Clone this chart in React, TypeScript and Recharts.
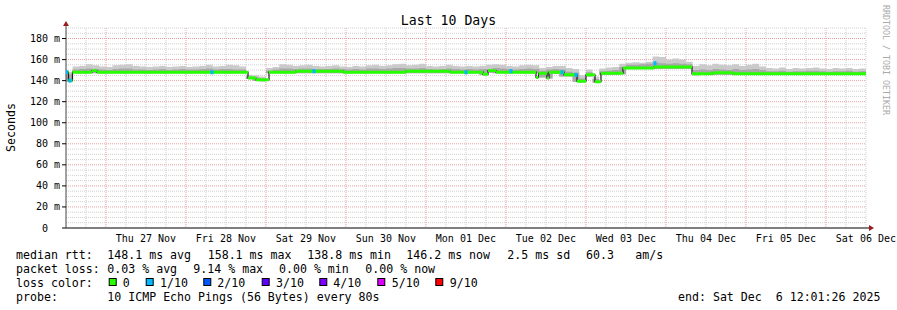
import React from 'react';
import { ComposedChart, XAxis, YAxis, CartesianGrid, Area, Scatter, ReferenceDot } from 'recharts';

// ---- time axis (hours since Wed 26 Nov 00:00) ----
const X_START = 12.024;
const X_END = 252.024;
const DAY_TICK_HOURS = [36, 60, 84, 108, 132, 156, 180, 204, 228, 252];
const DAY_TICK_LABELS = ['Thu 27 Nov', 'Fri 28 Nov', 'Sat 29 Nov', 'Sun 30 Nov', 'Mon 01 Dec', 'Tue 02 Dec', 'Wed 03 Dec', 'Thu 04 Dec', 'Fri 05 Dec', 'Sat 06 Dec'];
const Y_TICKS = [0, 20, 40, 60, 80, 100, 120, 140, 160, 180];

// ---- median rtt (ms), step breakpoints ----
const MEDIAN_HOURS = [12.02, 12.77, 13.97, 19.8, 21.3, 66.62, 69.02, 72.92, 81.02, 95.12, 114.02, 127.22, 137.12, 138.62, 141.02, 153.02, 153.77, 156.32, 156.92, 161.42, 165.32, 168.02, 170.72, 172.52, 179.12, 188.42, 199.82, 206.12, 212.12, 252.02];
const MEDIAN_MS = [148, 140, 148, 149.5, 148, 142.5, 140.8, 148, 149, 148, 149, 148, 146, 149.5, 148, 143, 147, 142.5, 148, 145.5, 139.5, 145.5, 139, 147, 152, 153, 146.5, 147.5, 146.5, 146.5];

// ---- smoke (ms), every 2 hours from 12:00 Nov 26 ----
const SMOKE_START = 12;
const SMOKE_STEP = 2;
const SMOKE_HI = [148,
  153.5, 154, 155.5, 154.5, 153.5, 153, 154.5, 155, 155.5, 154, 153.5, 153, 153.5, 154, 153, 153.5, 154, 153, 153.5, 154, 155, 153.5, 154, 155, 154.5, 153.5,
  145.5, 145, 144, 152,
  153, 155.5, 155, 154, 154.5, 155, 154, 153.5, 154, 154.5, 153.5, 153, 154, 153.5, 154.5, 155, 154, 154.5, 155.5, 156, 154.5, 155, 156, 154, 153.5, 154, 155, 154, 153.5,
  154, 153.5, 154, 155, 155.5, 155, 154, 153.5, 154.5, 155, 154.5,
  152, 153, 154, 154, 152, 151, 145, 150.5, 144, 151.5, 152.5, 153, 156,
  157, 157.5, 157, 158, 163, 162.5, 160, 161, 160, 158,
  154,
  155.5, 154.5, 156, 155, 154.5, 155.5, 154, 155, 156, 153.5,
  152, 151.5, 152.5, 151, 152, 151.5, 152, 152.5, 151.5, 151, 152, 151.5, 152, 151, 151.5, 151.5];
const SMOKE_MID = [146,
  150.5, 151, 151.5, 151, 150.5, 150, 151, 151.5, 151.5, 150.5, 150.5, 150, 150.5, 151, 150, 150.5, 151, 150.5, 150.5, 151, 151.5, 150.5, 151, 151, 150.5, 150.5,
  144, 143, 142.5, 149.5,
  150.5, 151.5, 151.5, 151, 151.5, 151.5, 151, 151, 151, 151.5, 151, 150.5, 151, 150.5, 151.5, 151.5, 151, 151.5, 152, 152, 151.5, 151.5, 152, 151, 150.5, 151, 151.5, 151, 150.5,
  151, 150.5, 151, 151, 152, 151.5, 151, 150.5, 151, 151.5, 151,
  149.5, 150.5, 151, 150.5, 148.5, 147.5, 142, 148, 141.5, 149, 149.5, 150, 153,
  155, 155, 155.5, 156, 157, 156.5, 156, 156.5, 156, 155.5,
  150,
  150.5, 150, 151, 150.5, 150, 151, 150, 150.5, 151, 150,
  149, 149, 149.5, 148.5, 149, 149, 149.5, 149.5, 149, 148.5, 149, 149, 149.5, 148.5, 149, 149];
const SMOKE_LO = [139,
  147, 147, 147, 147, 147, 147, 147, 147, 147, 147, 147, 147, 147, 147, 147, 147, 147, 147, 147, 147, 147, 147, 147, 147, 147, 147,
  141.5, 140, 139.5, 147,
  147, 147, 147, 147, 147, 147, 147, 147, 147, 147, 147, 147, 147, 147, 147, 147, 147, 147, 147, 147, 147, 147, 147, 147, 147, 147, 147, 147, 147,
  147, 147, 145.5, 147.5, 147, 147, 147, 147, 147, 147, 147,
  143, 142, 146.5, 144, 144, 139, 138.5, 144, 138, 145.5, 145.5, 145.5, 146,
  151, 151, 151, 151, 151, 151, 151, 151, 151, 151,
  145,
  145.5, 145.5, 145.5, 145.5, 145.5, 145.5, 145.5, 145.5, 145.5, 145.5,
  145.5, 145.5, 145.5, 145.5, 145.5, 145.5, 145.5, 145.5, 145.5, 145.5, 145.5, 145.5, 145.5, 145.5, 145.5, 145.5];

// ---- probes with 1/10 loss ----
const LOSS_HOURS = [12.17, 13.22, 55.82, 86.42, 132.02, 145.52, 160.82, 165.02, 188.72];
const LOSS_MS = [148, 140, 148, 149, 148, 149, 148, 145.5, 156.5];

// ---- legend ----
const LOSS_LABELS = ['0', '1/10', '2/10', '3/10', '4/10', '5/10', '9/10'];
const LOSS_COLORS = ['#26ff00', '#00b8ff', '#0059ff', '#5e00ff', '#7e00ff', '#dd00ff', '#ff0000'];
const RTT_STATS = ['148.1 ms avg', '158.1 ms max', '138.8 ms min', '146.2 ms now', '2.5 ms sd', '60.3', 'am/s'];
const LOSS_STATS = ['0.03 % avg', '9.14 % max', '0.00 % min', '0.00 % now'];
const PROBE_TEXT = '10 ICMP Echo Pings (56 Bytes) every 80s';
const END_TEXT = 'end: Sat Dec  6 12:01:26 2025';

const MONO = '"DejaVu Sans Mono", monospace';
const LINE_HALF = 1.4;

const smokeData = SMOKE_HI.map((hi, k) => ({ h: SMOKE_START + SMOKE_STEP * k, hi, mid: SMOKE_MID[k], lo: SMOKE_LO[k] }));
const medianData = MEDIAN_HOURS.map((h, i) => ({ h, v: MEDIAN_MS[i] }));
const lossData = LOSS_HOURS.map((h, i) => ({ h, v: LOSS_MS[i] }));

const yMinor: number[] = [];
for (let v = 5; v <= 190; v += 5) if (v % 20 !== 0) yMinor.push(v);
const yMajor = [20, 40, 60, 80, 100, 120, 140, 160, 180];
const xMinor: number[] = [];
for (let h = 18; h <= 252; h += 6) if (h % 24 !== 0) xMinor.push(h);
const xMajor: number[] = [];
for (let h = 24; h <= 240; h += 24) xMajor.push(h);

const YTick = (p: any) => {
  const v = p.payload.value;
  const label = v === 0 ? '0' : `${v} m`;
  return (
    <text x={p.x - (v === 0 ? 12 : 0)} y={p.y} dy="0.355em" textAnchor="end" fontFamily={MONO} fontSize={10} fill="#000">{label}</text>
  );
};

const XTick = (p: any) => {
  const i = DAY_TICK_HOURS.indexOf(p.payload.value);
  return (
    <text x={p.x} y={p.y} dy="0.71em" textAnchor="middle" fontFamily={MONO} fontSize={10} fill="#000">{DAY_TICK_LABELS[i]}</text>
  );
};

const XArrow = (p: any) => (
  <g>
    <line x1={p.cx} y1={p.cy} x2={p.cx + 4} y2={p.cy} stroke="#000" strokeWidth={1} />
    <path d={`M${p.cx + 3},${p.cy - 3} L${p.cx + 8},${p.cy} L${p.cx + 3},${p.cy + 3} Z`} fill="#9b1c1c" />
  </g>
);
const YArrow = (p: any) => (
  <g>
    <line x1={p.cx} y1={p.cy} x2={p.cx} y2={p.cy - 4} stroke="#444" strokeWidth={1} />
    <path d={`M${p.cx - 3},${p.cy - 2} L${p.cx},${p.cy - 7} L${p.cx + 3},${p.cy - 2} Z`} fill="#9b1c1c" />
  </g>
);

const LossMark = (p: any) => <rect x={p.cx - 1.5} y={p.cy - 2} width={3} height={4} fill="#00b8ff" />;

const L1 = [107.3, 207.7, 307.3, 406.3, 507.3, 586, 635.3];
const L2 = [107.3, 193.3, 279, 365.3];
const BOX_X = [108.7, 145.7, 203.3, 261.7, 319.3, 377.3, 435.3];
const BOX_LABEL_X = [122.7, 160, 217.3, 276, 333.3, 391.7, 449.7];

export default function App() {
  const txt = { fontFamily: MONO, fontSize: 11.6, fill: '#000', whiteSpace: 'pre' as const };
  return (
    <div style={{ position: 'absolute', left: 0, top: 0, width: 897, height: 310, background: '#fff' }}>
      <ComposedChart width={897} height={310} margin={{ top: 28, right: 31, bottom: 62, left: 6 }}>
        <CartesianGrid horizontalValues={yMinor} verticalValues={xMinor} stroke="#cfcfcf" strokeDasharray="1 1" />
        <CartesianGrid horizontalValues={yMajor} verticalValues={xMajor} stroke="#e8a0a0" strokeDasharray="1 1" />
        <XAxis dataKey="h" type="number" domain={[X_START, X_END]} allowDataOverflow ticks={DAY_TICK_HOURS} interval={0}
          tick={<XTick />} tickLine={false} tickSize={4} tickMargin={3} height={20} axisLine={{ stroke: '#000' }} />
        <YAxis type="number" domain={[0, 190]} allowDataOverflow ticks={Y_TICKS} interval={0} width={60}
          tick={<YTick />} tickSize={4} tickMargin={2} tickLine={{ stroke: '#000' }} axisLine={{ stroke: '#444' }} />
        <Area data={smokeData} dataKey={(d: any) => [d.lo, d.hi]} type="stepAfter" fill="#cacaca" fillOpacity={1} stroke="none" isAnimationActive={false} />
        <Area data={smokeData} dataKey={(d: any) => [d.lo, d.mid]} type="stepAfter" fill="#a8a8a8" fillOpacity={1} stroke="none" isAnimationActive={false} />
        <Area data={medianData} dataKey="v" type="stepAfter" stroke="#1a1a1a" strokeWidth={1.2} fill="none" fillOpacity={0} baseValue="dataMin" isAnimationActive={false} />
        <Area data={medianData} dataKey={(d: any) => [d.v - LINE_HALF, d.v + LINE_HALF]} type="stepAfter" fill="#26ff00" fillOpacity={1} stroke="none" isAnimationActive={false} />
        <Scatter data={lossData} dataKey="v" shape={<LossMark />} isAnimationActive={false} />
        <ReferenceDot x={X_END} y={0} r={0} ifOverflow="visible" shape={<XArrow />} />
        <ReferenceDot x={X_START} y={190} r={0} ifOverflow="visible" shape={<YArrow />} />
      </ComposedChart>
      <svg width={897} height={310} style={{ position: 'absolute', left: 0, top: 0, pointerEvents: 'none' }}>
        <text x={448.5} y={24.5} textAnchor="middle" fontFamily={MONO} fontSize={13.2} fill="#000">Last 10 Days</text>
        <text transform="translate(11,127.5) rotate(-90)" textAnchor="middle" dy="0.35em" fontFamily={MONO} fontSize={11.6} fill="#000">Seconds</text>
        <text transform="translate(886,60) rotate(90)" textAnchor="middle" dy="0.35em" fontFamily={MONO} fontSize={8.3} fill="#aaaaaa">RRDTOOL / TOBI OETIKER</text>
        <text x={16} y={258.5} style={txt}>median rtt:</text>
        {RTT_STATS.map((s, i) => <text key={'r' + i} x={L1[i]} y={258.5} style={txt}>{s}</text>)}
        <text x={16} y={272.5} style={txt}>packet loss:</text>
        {LOSS_STATS.map((s, i) => <text key={'l' + i} x={L2[i]} y={272.5} style={txt}>{s}</text>)}
        <text x={16} y={286.5} style={txt}>loss color:</text>
        {LOSS_LABELS.map((s, i) => (
          <g key={'c' + i}>
            <rect x={BOX_X[i] + 0.5} y={278.5} width={7} height={7} fill={LOSS_COLORS[i]} stroke="#000" strokeWidth={1} />
            <text x={BOX_LABEL_X[i]} y={286.5} style={txt}>{s}</text>
          </g>
        ))}
        <text x={16} y={300.5} style={txt}>probe:</text>
        <text x={107.3} y={300.5} style={txt}>{PROBE_TEXT}</text>
        <text x={678} y={300.5} style={txt}>{END_TEXT}</text>
      </svg>
    </div>
  );
}
